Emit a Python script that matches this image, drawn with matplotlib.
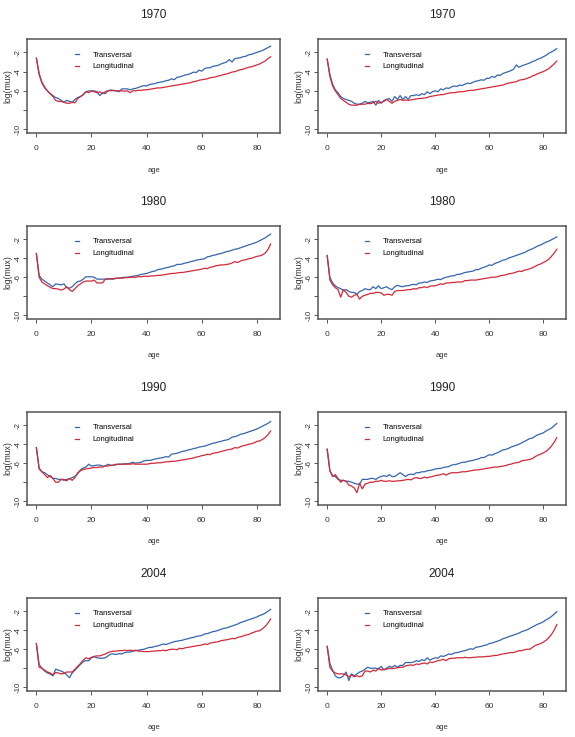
import numpy as np
import matplotlib
matplotlib.use("Agg")
import matplotlib.pyplot as plt

plt.rcParams['font.family'] = ['Liberation Sans', 'DejaVu Sans']

# =========================
# DATA (log mortality by age)
# =========================
ages = np.arange(0, 86)
years = ["1970", "1970", "1980", "1980", "1990", "1990", "2004", "2004"]

trans_1970a = [-2.6, -4.3, -5.2, -5.7, -6.0, -6.3, -6.5, -6.7, -6.8, -7.0,
               -7.2, -7.0, -7.1, -7.2, -6.9, -6.7, -6.6, -6.4, -6.1, -6.0,
               -6.05, -6.0, -6.1, -6.5, -6.2, -6.3, -6.0, -5.9, -6.0, -6.0,
               -6.1, -5.8, -5.8, -5.8, -5.9, -5.8, -5.75, -5.65, -5.55, -5.45,
               -5.5, -5.35, -5.3, -5.25, -5.15, -5.1, -5.05, -4.95, -4.9, -4.75,
               -4.85, -4.6, -4.55, -4.45, -4.35, -4.3, -4.2, -4.05, -4.1, -3.85,
               -3.95, -3.7, -3.6, -3.6, -3.45, -3.4, -3.35, -3.2, -3.1, -3.0,
               -2.75, -3.0, -2.65, -2.6, -2.55, -2.45, -2.4, -2.25, -2.2, -2.1,
               -2.0, -1.9, -1.8, -1.65, -1.5, -1.35]
long_1970a = [-2.6, -4.2, -5.1, -5.6, -6.0, -6.3, -6.6, -7.0, -7.1, -7.1,
              -7.2, -7.3, -7.3, -7.2, -7.25, -6.8, -6.6, -6.4, -6.1, -6.2,
              -6.0, -6.1, -6.2, -6.1, -6.3, -6.1, -6.0, -6.0, -5.95, -6.0,
              -6.0, -6.0, -6.05, -6.0, -6.2, -6.0, -6.0, -5.95, -5.95, -5.9,
              -5.9, -5.85, -5.8, -5.75, -5.7, -5.7, -5.65, -5.6, -5.55, -5.5,
              -5.45, -5.4, -5.35, -5.3, -5.25, -5.2, -5.15, -5.05, -5.0, -4.9,
              -4.85, -4.8, -4.75, -4.65, -4.6, -4.55, -4.45, -4.4, -4.3, -4.25,
              -4.15, -4.05, -4.0, -3.9, -3.8, -3.75, -3.65, -3.55, -3.5, -3.4,
              -3.3, -3.2, -3.05, -2.9, -2.65, -2.45]

trans_1970b = [-2.7, -4.3, -5.3, -5.9, -6.2, -6.6, -6.8, -6.9, -7.0, -7.1,
               -7.3, -7.4, -7.4, -7.3, -7.1, -7.25, -7.2, -7.1, -7.5, -7.0,
               -7.3, -7.0, -6.9, -6.8, -7.1, -6.6, -6.9, -6.5, -6.9, -6.6,
               -6.9, -6.5, -6.5, -6.4, -6.5, -6.3, -6.4, -6.1, -6.3, -6.1,
               -6.0, -6.1, -5.8, -5.9, -5.7, -5.75, -5.6, -5.5, -5.55, -5.4,
               -5.45, -5.3, -5.2, -5.25, -5.1, -5.0, -4.95, -4.85, -4.9, -4.7,
               -4.7, -4.5, -4.6, -4.35, -4.4, -4.2, -4.1, -4.0, -3.9, -3.75,
               -3.3, -3.55, -3.4, -3.3, -3.2, -3.1, -2.95, -2.85, -2.7, -2.6,
               -2.45, -2.3, -2.1, -1.95, -1.8, -1.6]
long_1970b = [-2.7, -4.5, -5.5, -6.0, -6.4, -6.8, -7.0, -7.2, -7.4, -7.5,
              -7.5, -7.5, -7.4, -7.4, -7.4, -7.3, -7.35, -7.25, -7.1, -7.3,
              -7.2, -7.1, -6.9, -7.1, -7.3, -7.1, -7.0, -6.9, -7.0, -6.95,
              -7.0, -6.95, -6.9, -6.85, -6.8, -6.8, -6.75, -6.7, -6.6, -6.55,
              -6.5, -6.45, -6.4, -6.4, -6.3, -6.25, -6.2, -6.2, -6.15, -6.1,
              -6.1, -6.05, -6.0, -5.95, -5.95, -5.9, -5.85, -5.8, -5.75, -5.7,
              -5.65, -5.6, -5.55, -5.5, -5.45, -5.4, -5.3, -5.2, -5.15, -5.1,
              -5.05, -4.9, -4.85, -4.8, -4.7, -4.6, -4.45, -4.35, -4.2, -4.1,
              -4.0, -3.85, -3.7, -3.45, -3.2, -2.9]

trans_1980a = [-3.5, -5.8, -6.2, -6.4, -6.6, -6.8, -7.0, -6.7, -6.75, -6.8,
               -6.7, -7.1, -7.15, -7.0, -6.7, -6.45, -6.4, -6.2, -5.95, -5.95,
               -5.95, -6.0, -6.2, -6.2, -6.2, -6.2, -6.15, -6.2, -6.2, -6.1,
               -6.1, -6.05, -6.0, -6.0, -5.95, -5.9, -5.85, -5.8, -5.7, -5.65,
               -5.6, -5.5, -5.4, -5.35, -5.2, -5.15, -5.1, -5.0, -4.95, -4.85,
               -4.8, -4.65, -4.65, -4.6, -4.5, -4.45, -4.35, -4.3, -4.2, -4.15,
               -4.1, -4.05, -3.85, -3.8, -3.7, -3.65, -3.55, -3.5, -3.4, -3.3,
               -3.25, -3.15, -3.05, -3.0, -2.9, -2.8, -2.7, -2.6, -2.5, -2.4,
               -2.3, -2.15, -2.0, -1.85, -1.65, -1.45]
long_1980a = [-3.5, -6.0, -6.5, -6.7, -6.9, -7.05, -7.2, -7.2, -7.25, -7.35,
              -7.25, -7.0, -7.3, -7.5, -7.2, -6.9, -6.7, -6.5, -6.4, -6.4,
              -6.4, -6.3, -6.6, -6.6, -6.6, -6.2, -6.2, -6.15, -6.15, -6.1,
              -6.1, -6.1, -6.05, -6.05, -6.0, -6.0, -6.0, -5.95, -5.95, -5.9,
              -5.9, -5.9, -5.85, -5.85, -5.8, -5.8, -5.75, -5.7, -5.65, -5.6,
              -5.6, -5.55, -5.5, -5.5, -5.45, -5.4, -5.35, -5.3, -5.25, -5.2,
              -5.15, -5.05, -5.1, -4.95, -4.9, -4.8, -4.75, -4.7, -4.7, -4.65,
              -4.6, -4.5, -4.35, -4.45, -4.3, -4.2, -4.15, -4.05, -4.0, -3.9,
              -3.8, -3.75, -3.65, -3.45, -3.1, -2.5]

trans_1980b = [-3.75, -6.0, -6.6, -6.9, -7.1, -7.2, -7.4, -7.3, -7.5, -7.6,
               -7.6, -7.8, -7.5, -7.4, -7.2, -7.3, -7.3, -7.0, -7.2, -6.9,
               -7.2, -7.1, -7.0, -7.2, -7.3, -7.0, -6.85, -6.95, -7.0, -6.9,
               -6.9, -6.8, -6.75, -6.8, -6.6, -6.6, -6.5, -6.55, -6.4, -6.35,
               -6.3, -6.2, -6.25, -6.1, -6.0, -5.95, -5.85, -5.85, -5.7, -5.7,
               -5.6, -5.5, -5.45, -5.4, -5.35, -5.2, -5.2, -5.05, -4.95, -4.85,
               -4.7, -4.75, -4.55, -4.45, -4.35, -4.2, -4.15, -4.0, -3.9, -3.8,
               -3.7, -3.6, -3.5, -3.4, -3.25, -3.1, -3.0, -2.85, -2.7, -2.6,
               -2.45, -2.3, -2.2, -2.05, -1.9, -1.75]
long_1980b = [-3.7, -6.3, -6.8, -7.1, -7.3, -8.1, -7.3, -7.6, -8.0, -8.1,
              -7.9, -7.8, -8.3, -8.0, -7.9, -7.8, -7.7, -7.7, -7.6, -7.6,
              -7.65, -7.9, -7.8, -7.8, -7.9, -7.5, -7.4, -7.4, -7.4, -7.35,
              -7.3, -7.3, -7.2, -7.25, -7.1, -7.1, -7.0, -7.1, -6.95, -6.9,
              -6.9, -6.8, -6.7, -6.75, -6.6, -6.6, -6.55, -6.55, -6.5, -6.5,
              -6.5, -6.35, -6.35, -6.3, -6.3, -6.3, -6.25, -6.2, -6.15, -6.1,
              -6.05, -6.0, -6.0, -5.95, -5.85, -5.8, -5.75, -5.65, -5.6, -5.55,
              -5.45, -5.35, -5.4, -5.25, -5.2, -5.1, -5.0, -4.85, -4.7, -4.6,
              -4.45, -4.3, -4.1, -3.8, -3.45, -3.05]

trans_1990a = [-4.35, -6.5, -6.9, -7.0, -7.2, -7.4, -7.6, -7.6, -7.7, -7.7,
               -7.8, -7.7, -7.65, -7.5, -7.4, -7.1, -6.7, -6.5, -6.4, -6.1,
               -6.3, -6.25, -6.2, -6.2, -6.3, -6.3, -6.1, -6.25, -6.2, -6.15,
               -6.1, -6.1, -6.05, -6.05, -6.0, -5.9, -6.0, -5.95, -5.9, -5.75,
               -5.7, -5.7, -5.65, -5.55, -5.5, -5.45, -5.4, -5.3, -5.35, -5.05,
               -5.0, -4.95, -4.85, -4.75, -4.7, -4.6, -4.55, -4.45, -4.4, -4.3,
               -4.25, -4.2, -4.1, -4.0, -3.9, -3.85, -3.75, -3.7, -3.6, -3.55,
               -3.45, -3.25, -3.2, -3.1, -2.95, -2.9, -2.8, -2.7, -2.6, -2.5,
               -2.4, -2.25, -2.1, -1.95, -1.8, -1.6]
long_1990a = [-4.35, -6.6, -6.9, -7.2, -7.5, -7.3, -7.6, -8.0, -8.0, -7.7,
              -7.7, -7.85, -7.6, -7.8, -7.5, -7.0, -6.8, -6.65, -6.6, -6.55,
              -6.5, -6.45, -6.45, -6.4, -6.4, -6.3, -6.3, -6.2, -6.2, -6.1,
              -6.1, -6.1, -6.1, -6.1, -6.1, -6.05, -6.1, -6.1, -6.1, -6.1,
              -6.1, -6.05, -6.0, -6.0, -5.95, -5.95, -5.9, -5.85, -5.85, -5.8,
              -5.8, -5.75, -5.7, -5.65, -5.6, -5.55, -5.5, -5.45, -5.35, -5.3,
              -5.2, -5.15, -5.05, -5.1, -4.95, -4.9, -4.85, -4.75, -4.7, -4.6,
              -4.55, -4.5, -4.35, -4.4, -4.25, -4.15, -4.1, -4.0, -3.95, -3.85,
              -3.7, -3.65, -3.5, -3.3, -3.0, -2.6]

trans_1990b = [-4.55, -6.8, -7.3, -7.4, -7.7, -7.8, -7.8, -7.9, -7.9, -8.0,
               -8.1, -8.2, -8.2, -7.7, -7.7, -7.7, -7.6, -7.6, -7.7, -7.5,
               -7.4, -7.3, -7.4, -7.2, -7.4, -7.4, -7.2, -7.0, -7.2, -7.4,
               -7.2, -7.15, -7.2, -7.0, -7.0, -6.9, -6.9, -6.8, -6.75, -6.7,
               -6.6, -6.55, -6.55, -6.45, -6.4, -6.35, -6.2, -6.15, -6.1, -6.0,
               -5.9, -5.9, -5.8, -5.75, -5.7, -5.6, -5.55, -5.4, -5.4, -5.25,
               -5.1, -5.15, -5.0, -4.9, -4.75, -4.6, -4.55, -4.45, -4.3, -4.2,
               -4.1, -4.0, -3.85, -3.7, -3.55, -3.4, -3.35, -3.15, -3.0, -2.9,
               -2.8, -2.6, -2.45, -2.3, -2.05, -1.8]
long_1990b = [-4.5, -6.8, -7.4, -7.2, -7.6, -8.0, -7.8, -7.9, -8.3, -8.4,
              -8.6, -9.1, -8.1, -8.7, -8.2, -8.1, -8.0, -8.0, -7.9, -7.9,
              -7.8, -7.9, -7.9, -7.85, -7.9, -7.9, -7.85, -7.85, -7.8, -7.75,
              -7.7, -7.75, -7.6, -7.5, -7.6, -7.6, -7.45, -7.55, -7.45, -7.4,
              -7.3, -7.25, -7.2, -7.1, -7.25, -7.1, -7.0, -7.0, -7.0, -6.95,
              -6.9, -6.9, -6.85, -6.8, -6.75, -6.7, -6.7, -6.65, -6.6, -6.55,
              -6.5, -6.45, -6.4, -6.4, -6.35, -6.3, -6.25, -6.15, -6.1, -6.0,
              -5.95, -5.9, -5.75, -5.7, -5.65, -5.6, -5.5, -5.3, -5.15, -5.05,
              -4.9, -4.75, -4.5, -4.2, -3.8, -3.3]

trans_2004a = [-5.4, -7.6, -8.0, -8.3, -8.5, -8.6, -8.8, -8.1, -8.2, -8.3,
               -8.45, -8.7, -9.0, -8.5, -8.2, -7.9, -7.6, -7.3, -7.2, -7.2,
               -6.9, -6.8, -6.9, -6.95, -6.95, -6.9, -6.7, -6.5, -6.5, -6.55,
               -6.45, -6.5, -6.35, -6.3, -6.3, -6.2, -6.15, -6.1, -6.05, -6.0,
               -5.9, -5.8, -5.8, -5.7, -5.65, -5.55, -5.45, -5.5, -5.4, -5.3,
               -5.2, -5.15, -5.1, -5.05, -4.95, -4.9, -4.8, -4.75, -4.65, -4.6,
               -4.55, -4.4, -4.35, -4.25, -4.15, -4.1, -4.0, -3.9, -3.8, -3.75,
               -3.65, -3.55, -3.45, -3.35, -3.2, -3.1, -3.0, -2.9, -2.8, -2.7,
               -2.6, -2.45, -2.35, -2.2, -2.0, -1.8]
long_2004a = [-5.4, -7.9, -8.0, -8.2, -8.4, -8.5, -8.7, -8.45, -8.5, -8.6,
              -8.55, -8.4, -8.4, -8.4, -8.1, -7.8, -7.5, -7.15, -6.9, -7.0,
              -6.85, -6.75, -6.7, -6.7, -6.6, -6.5, -6.35, -6.25, -6.2, -6.2,
              -6.15, -6.15, -6.1, -6.15, -6.1, -6.15, -6.1, -6.2, -6.2, -6.25,
              -6.25, -6.25, -6.2, -6.2, -6.15, -6.15, -6.1, -6.15, -6.05, -6.0,
              -6.0, -6.05, -5.9, -5.95, -5.85, -5.8, -5.75, -5.7, -5.65, -5.6,
              -5.55, -5.45, -5.5, -5.35, -5.3, -5.25, -5.2, -5.1, -5.05, -5.0,
              -4.95, -4.85, -4.9, -4.75, -4.7, -4.6, -4.5, -4.45, -4.3, -4.2,
              -4.1, -4.05, -3.85, -3.6, -3.25, -2.8]

trans_2004b = [-5.7, -7.5, -8.2, -8.8, -9.0, -9.0, -8.8, -8.4, -9.3, -8.6,
               -8.8, -8.6, -8.4, -8.3, -8.1, -7.9, -8.0, -8.0, -8.0, -8.1,
               -7.8, -8.2, -8.0, -7.8, -7.9, -7.7, -7.9, -7.7, -7.7, -7.4,
               -7.4, -7.4, -7.35, -7.2, -7.3, -7.1, -7.2, -6.9, -7.15, -7.0,
               -6.9, -6.95, -6.7, -6.75, -6.65, -6.5, -6.55, -6.4, -6.35, -6.3,
               -6.2, -6.15, -6.05, -5.95, -6.0, -5.8, -5.75, -5.7, -5.6, -5.55,
               -5.4, -5.35, -5.25, -5.15, -5.05, -4.9, -4.8, -4.7, -4.6, -4.5,
               -4.4, -4.3, -4.15, -4.05, -3.95, -3.8, -3.65, -3.5, -3.35, -3.25,
               -3.1, -2.9, -2.75, -2.55, -2.3, -2.05]
long_2004b = [-5.7, -7.9, -8.3, -8.5, -8.6, -8.6, -8.6, -8.7, -8.9, -8.7,
              -8.9, -8.8, -8.9, -8.8, -8.3, -8.3, -8.4, -8.2, -8.3, -8.0,
              -8.2, -8.1, -8.1, -8.0, -8.05, -8.0, -7.95, -7.9, -7.9, -7.75,
              -7.7, -7.65, -7.7, -7.55, -7.6, -7.5, -7.45, -7.55, -7.35, -7.4,
              -7.3, -7.2, -7.15, -7.05, -7.2, -7.0, -6.95, -6.95, -6.9, -6.9,
              -6.9, -6.85, -6.9, -6.9, -6.85, -6.85, -6.8, -6.8, -6.8, -6.75,
              -6.75, -6.7, -6.65, -6.65, -6.55, -6.5, -6.45, -6.4, -6.35, -6.35,
              -6.25, -6.15, -6.15, -6.05, -6.0, -6.0, -5.8, -5.6, -5.5, -5.4,
              -5.25, -5.05, -4.8, -4.45, -4.0, -3.4]

transversal = [trans_1970a, trans_1970b, trans_1980a, trans_1980b,
               trans_1990a, trans_1990b, trans_2004a, trans_2004b]
longitudinal = [long_1970a, long_1970b, long_1980a, long_1980b,
                long_1990a, long_1990b, long_2004a, long_2004b]

# =========================
# LAYOUT (pixel boxes of each panel)
# =========================
W, H = 575, 737
fig = plt.figure(figsize=(W / 100, H / 100), dpi=100)

col_x = [(27, 280), (318, 566)]
row_y = [(39, 133), (226, 319), (412, 505), (598, 691)]

blue = '#3466ad'
red = '#d12a3a'
frame = '#555555'

for i in range(8):
    r, c = divmod(i, 2)
    x0, x1 = col_x[c]
    y0, y1 = row_y[r]
    ax = fig.add_axes([x0 / W, 1 - y1 / H, (x1 - x0) / W, (y1 - y0) / H])

    ax.plot(ages, transversal[i], color=blue, lw=0.9, label='Transversal')
    ax.plot(ages, longitudinal[i], color=red, lw=0.9, label='Longitudinal')

    ax.set_xlim(-3.4, 88.4)
    ax.set_ylim(-10.4, -0.6)
    ax.set_xticks([0, 20, 40, 60, 80])
    ax.set_yticks([-10, -8, -6, -4, -2])
    ax.set_yticklabels(['-10', '', '-6', '-4', '-2'], rotation=90, va='center')

    ax.tick_params(axis='both', direction='out', length=3, width=0.7,
                   colors=frame, labelcolor='#333333')
    ax.tick_params(axis='x', pad=5.5, labelsize=6)
    ax.tick_params(axis='y', pad=0.8, labelsize=5.6)
    for s in ax.spines.values():
        s.set_color(frame)
        s.set_linewidth(1.1)

    ax.set_title(years[i], fontsize=8.5, color='#222222', pad=15)
    ax.set_xlabel('age', fontsize=5.4, color='#333333')
    ax.xaxis.set_label_coords(0.5, -0.36)
    ax.set_ylabel('log(mux)', fontsize=6.2, color='#333333')
    ax.yaxis.set_label_coords(-0.058, 0.5)

    ax.legend(loc='upper left', bbox_to_anchor=(0.19, 0.87), frameon=False,
              fontsize=5.5, handlelength=0.5, handletextpad=1.8,
              labelspacing=0.6, borderpad=0, borderaxespad=0)

plt.savefig('out.png', dpi=100)
